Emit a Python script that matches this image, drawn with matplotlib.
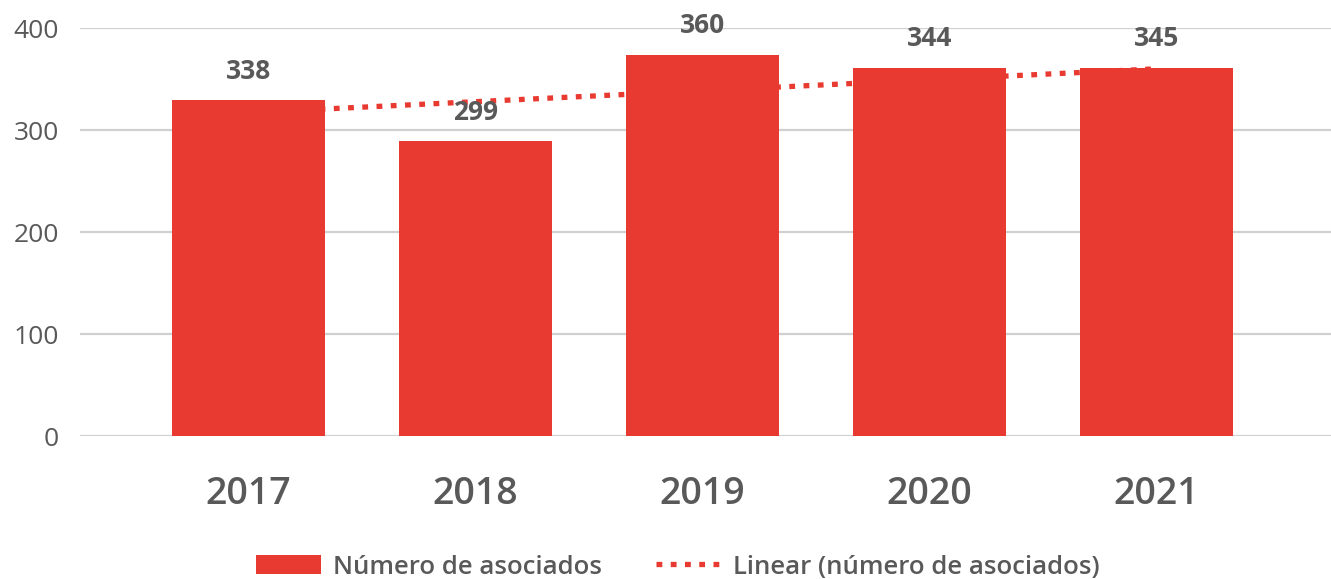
import matplotlib
matplotlib.use("Agg")
import matplotlib.pyplot as plt
from matplotlib.lines import Line2D
from matplotlib.patches import Patch
from matplotlib import font_manager as fm
import numpy as np

# ---- data ----
years = ["2017", "2018", "2019", "2020", "2021"]
bar_values = [329, 289, 373.5, 361, 361]        # drawn bar heights
label_values = [338, 299, 360, 344, 345]         # printed data labels
trend_values = [317, 360]                        # linear trend at first / last year
y_ticks = [0, 100, 200, 300, 400]
legend_labels = ["Número de asociados", "Linear (número de asociados)"]

RED = "#E83A30"
GREY_TXT = "#595959"
GRID = "#D0D0D0"

plt.rcParams["font.family"] = ["Open Sans", "DejaVu Sans"]

semi = None
for f in fm.findSystemFonts():
    n = f.lower().replace(" ", "").replace("-", "")
    if "opensans" in n and "semibold" in n and "italic" not in n:
        semi = f
        break

def semi_prop(size):
    if semi:
        return fm.FontProperties(fname=semi, size=size)
    return fm.FontProperties(family="Open Sans", weight="bold", size=size)

W, H = 1331, 579
fig = plt.figure(figsize=(W / 100, H / 100), dpi=100)
left, right = 80 / W, 1331 / W
bottom, top = 1 - 436 / H, 1 - 28 / H
ax = fig.add_axes([left, bottom, right - left, top - bottom])

x = np.arange(len(years))
ax.bar(x, bar_values, width=0.674, color=RED, zorder=3)

tx = np.array([x[0], x[-1]])
ax.plot(tx, trend_values, color=RED, lw=3.8, linestyle=(0, (1.1, 1.6)),
        dash_capstyle="butt", zorder=2)

for xi, bv, lv in zip(x, bar_values, label_values):
    ax.annotate(f"{lv}", (xi, bv), xytext=(0, 21), textcoords="offset points",
                ha="center", va="center", fontsize=19, fontweight="bold",
                color=GREY_TXT, zorder=4)

ax.set_xlim(-0.742, 4.769)
ax.set_ylim(0, 400)
ax.set_yticks(y_ticks)
ax.set_yticklabels([str(t) for t in y_ticks], fontsize=19, color=GREY_TXT)
ax.set_xticks(x)
ax.set_xticklabels(years, color=GREY_TXT)
for t in ax.get_xticklabels():
    t.set_fontproperties(semi_prop(27))
ax.tick_params(axis="y", length=0, pad=15)
ax.tick_params(axis="x", length=0, pad=28)
ax.grid(axis="y", color=GRID, lw=1.6, zorder=0)
for s in ax.spines.values():
    s.set_visible(False)

handles = [Patch(facecolor=RED, edgecolor="none"),
           Line2D([0], [0], color=RED, lw=3.8, linestyle=(0, (1.1, 1.6)))]
leg = fig.legend(handles, legend_labels, loc="center", ncol=2,
                 bbox_to_anchor=(0.5095, 1 - 567 / H), frameon=False,
                 prop=semi_prop(18.5),
                 handlelength=2.5, handleheight=0.8, handletextpad=0.5,
                 columnspacing=2.1)
for t in leg.get_texts():
    t.set_color(GREY_TXT)

fig.savefig("out.png", dpi=100)
